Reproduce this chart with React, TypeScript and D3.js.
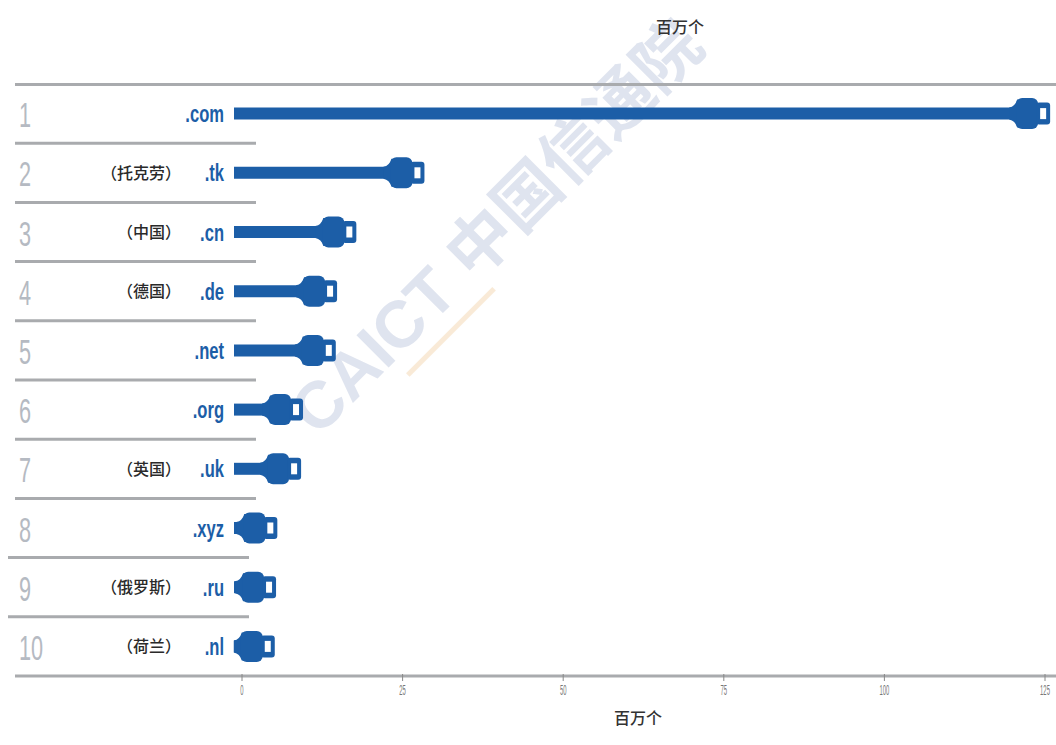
import React from "react";
import * as d3 from "d3";

// Top 10 top-level domains by registrations (millions)
const ranks = [1, 2, 3, 4, 5, 6, 7, 8, 9, 10];
const tlds = [".com", ".tk", ".cn", ".de", ".net", ".org", ".uk", ".xyz", ".ru", ".nl"];
const countries = ["", "（托克劳）", "（中国）", "（德国）", "", "", "（英国）", "", "（俄罗斯）", "（荷兰）"];
const values = [125.8, 28.4, 17.8, 14.8, 14.6, 9.5, 9.2, 5.5, 5.3, 5.1];
const ticks = [0, 25, 50, 75, 100, 125];
const unitLabel = "百万个";

const W = 1056;
const H = 745;
const BLUE = "#1c5ea7";
const RULE = "#a9abae";

// Cable plug drawn at the end of each bar; right edge sits on the value
function Plug({ xEnd, cy }: { xEnd: number; cy: number }) {
  const bx0 = xEnd - 34;
  const bx1 = xEnd - 12;
  const neck = `M${bx0 - 7},${cy - 6} Q${bx0 - 1},${cy - 7} ${bx0 + 1},${cy - 14}
    L${bx0 + 4},${cy - 14} L${bx0 + 4},${cy + 14} L${bx0 + 1},${cy + 14}
    Q${bx0 - 1},${cy + 7} ${bx0 - 7},${cy + 6} Z`;
  return (
    <g fill={BLUE}>
      <path d={neck} />
      <rect x={bx0} y={cy - 15.5} width={bx1 - bx0} height={31} rx={6} />
      <rect x={bx1 - 2} y={cy - 11} width={xEnd - bx1 + 2} height={22} rx={3} />
      <rect x={xEnd - 10} y={cy - 5.5} width={6} height={11} fill="#fff" />
    </g>
  );
}

export default function App() {
  const x = d3.scaleLinear().domain([0, 125]).range([242, 1045]);
  const y = d3.scaleBand<number>().domain(ranks).range([84, 676]).padding(0);
  const bw = y.bandwidth();
  const barStart = x(0) - 8;

  return (
    <svg
      width={W}
      height={H}
      viewBox={`0 0 ${W} ${H}`}
      style={{ position: "absolute", left: 0, top: 0, background: "#fff" }}
    >
      {/* watermark */}
      <g transform="translate(318,438) rotate(-45)" opacity={0.45}>
        <text
          x={0}
          y={0}
          fontFamily="'Liberation Sans', 'Noto Sans CJK SC', sans-serif"
          fontWeight="bold"
          fontSize={66}
          fill="#b9c4dc"
        >
          CAICT 中国信通院
        </text>
        <line x1={108} x2={230} y1={19} y2={19} stroke="#f3d2a8" strokeWidth={5} />
      </g>

      {/* unit label above */}
      <text
        x={680}
        y={33}
        textAnchor="middle"
        fontFamily="'Noto Sans CJK SC', sans-serif"
        fontWeight={500}
        fontSize={16}
        fill="#333"
      >
        {unitLabel}
      </text>

      {/* top rule */}
      <line x1={15} x2={W} y1={84.5} y2={84.5} stroke={RULE} strokeWidth={3} />

      {/* row separators */}
      {ranks.slice(0, -1).map((r) => {
        const yy = (y(r) as number) + bw;
        const x0 = r >= 8 ? 8 : 15;
        const x1 = r >= 8 ? 249 : 256;
        return <line key={r} x1={x0} x2={x1} y1={yy} y2={yy} stroke={RULE} strokeWidth={3} />;
      })}

      {/* rows */}
      {ranks.map((r, i) => {
        const cy = (y(r) as number) + bw / 2;
        const xEnd = x(values[i]);
        return (
          <g key={r}>
            <text
              transform={`translate(19,${cy + 13.5}) scale(0.62,1)`}
              fontFamily="'Liberation Sans', Arial, sans-serif"
              fontSize={35}
              fill="#b5bac2"
            >
              {r}
            </text>
            {countries[i] && (
              <text
                x={181}
                y={cy + 6}
                textAnchor="end"
                fontFamily="'Noto Sans CJK SC', sans-serif"
                fontWeight={500}
                fontSize={16}
                fill="#2a2a2a"
              >
                {countries[i]}
              </text>
            )}
            <text
              transform={`translate(224,${cy + 8.5}) scale(0.72,1)`}
              textAnchor="end"
              fontFamily="'Liberation Sans', Arial, sans-serif"
              fontWeight="bold"
              fontSize={23}
              fill={BLUE}
            >
              {tlds[i]}
            </text>
            <line
              x1={barStart}
              x2={xEnd - 38}
              y1={cy}
              y2={cy}
              stroke={BLUE}
              strokeWidth={12}
            />
            <Plug xEnd={xEnd} cy={cy} />
          </g>
        );
      })}

      {/* bottom axis */}
      <line x1={15} x2={W} y1={676} y2={676} stroke={RULE} strokeWidth={3} />
      {ticks.map((t) => (
        <g key={t} transform={`translate(${x(t)},0)`}>
          <line y1={674} y2={681} stroke="#888" strokeWidth={1} />
          <text
            transform={`translate(0,695) scale(0.42,1)`}
            textAnchor="middle"
            fontFamily="'Liberation Sans', Arial, sans-serif"
            fontSize={14}
            fill="#777"
          >
            {t}
          </text>
        </g>
      ))}
      <text
        x={638}
        y={724}
        textAnchor="middle"
        fontFamily="'Noto Sans CJK SC', sans-serif"
        fontWeight={500}
        fontSize={16}
        fill="#333"
      >
        {unitLabel}
      </text>
    </svg>
  );
}
